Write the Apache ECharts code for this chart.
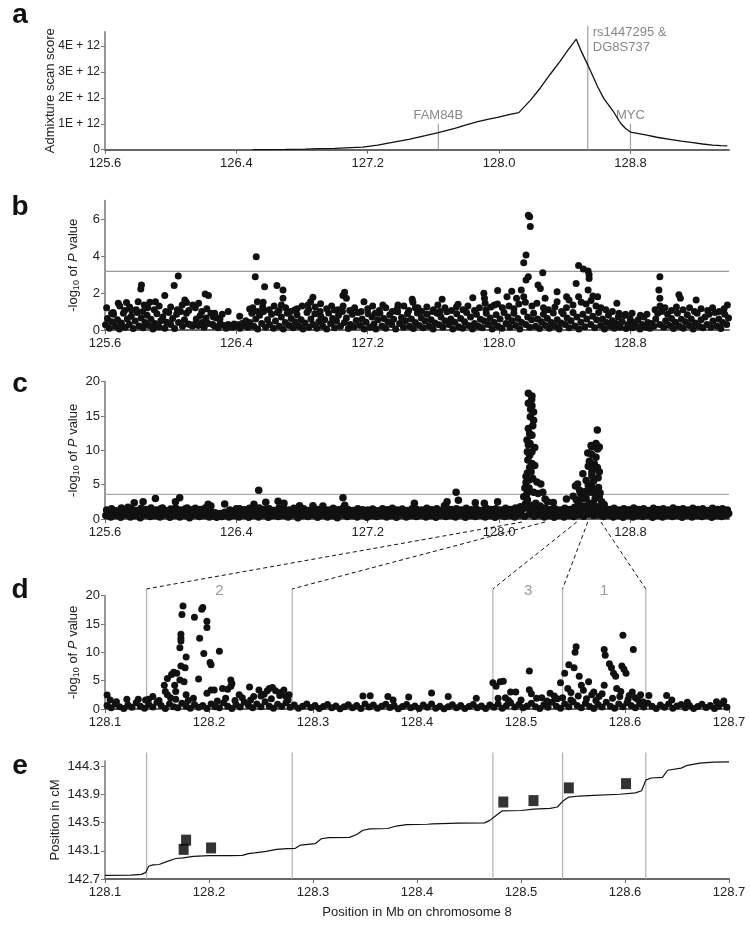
<!DOCTYPE html>
<html><head><meta charset="utf-8">
<script src="https://cdn.jsdelivr.net/npm/echarts@6/dist/echarts.min.js"></script>
<style>html,body{margin:0;padding:0;background:#fff}#c{width:750px;height:934px}</style>
</head><body><div id="c"></div>
<script>
// ---------------- DATA ----------------
const topTicks = [125.6, 126.4, 127.2, 128.0, 128.8];
const zoomTicks = [128.1, 128.2, 128.3, 128.4, 128.5, 128.6, 128.7];
const admixTicks = [0, 1, 2, 3, 4];          // in units of 1E+12
const bTicks = [0, 2, 4, 6];
const cTicks = [0, 5, 10, 15, 20];
const dTicks = [0, 5, 10, 15, 20];
const eTicks = [142.7, 143.1, 143.5, 143.9, 144.3];

// panel a: admixture scan score (E+12) vs position (Mb)
const admixScore = [[126.5,0.0],[126.6,0.005],[126.7,0.01],[126.82,0.02],[126.9,0.04],[127.0,0.05],[127.1,0.08],[127.17,0.1],[127.26,0.18],[127.35,0.28],[127.45,0.4],[127.55,0.54],[127.63,0.66],[127.73,0.82],[127.8,0.96],[127.87,1.08],[127.93,1.17],[127.99,1.25],[128.06,1.35],[128.12,1.43],[128.19,1.9],[128.25,2.37],[128.31,2.9],[128.37,3.4],[128.42,3.85],[128.47,4.26],[128.5,3.8],[128.54,3.27],[128.57,2.85],[128.6,2.43],[128.64,1.95],[128.69,1.53],[128.74,1.02],[128.77,0.82],[128.8,0.68],[128.85,0.62],[128.9,0.56],[128.96,0.48],[129.04,0.4],[129.11,0.33],[129.18,0.27],[129.24,0.22],[129.3,0.18],[129.35,0.16],[129.39,0.15]];
const geneMarks = [
  {name:'FAM84B', pos:127.63, height:1.0},
  {name:'rs1447295 &\nDG8S737', pos:128.54, height:4.77},
  {name:'MYC', pos:128.80, height:1.0}
];

// panel b: -log10 P
const bPoints = [[125.603,0.28],[125.615,0.62],[125.627,0.1],[125.64,0.45],[125.652,0.85],[125.664,0.2],[125.676,0.55],[125.688,0.05],[125.7,0.38],[125.712,0.9],[125.724,0.15],[125.736,0.6],[125.748,0.3],[125.76,0.75],[125.772,0.08],[125.784,0.48],[125.796,0.95],[125.808,0.22],[125.82,0.65],[125.832,0.12],[125.844,0.4],[125.856,0.8],[125.868,0.25],[125.88,0.58],[125.892,0.05],[125.904,0.35],[125.916,0.88],[125.928,0.18],[125.94,0.5],[125.952,0.7],[125.964,0.1],[125.976,0.42],[125.988,0.95],[126.0,0.3],[126.012,0.62],[126.024,0.08],[126.036,0.85],[126.048,0.4],[126.06,1.0],[126.072,0.2],[126.084,0.55],[126.096,0.9],[126.108,0.32],[126.12,0.28],[126.132,0.22],[126.144,0.3],[126.156,0.6],[126.168,0.25],[126.18,0.78],[126.192,0.4],[126.204,0.15],[126.216,0.65],[126.228,0.35],
[126.245,0.9],[126.256,0.3],[126.268,0.2],[126.279,0.65],[126.29,0.12],[126.302,0.35],[126.314,0.85],[126.326,0.25],[126.338,0.1],[126.35,0.3],[126.362,0.22],[126.374,0.15],[126.386,0.32],[126.398,0.2],[126.41,0.28],[126.422,0.1],[126.434,0.35],[126.446,0.25],[126.458,0.5],[126.47,0.15],
[126.482,0.4],[126.494,0.9],[126.506,0.2],[126.518,0.6],[126.53,0.05],[126.542,0.8],[126.554,0.35],[126.566,1.0],[126.578,0.15],[126.59,0.55],[126.602,0.3],[126.614,0.85],[126.626,0.1],[126.638,0.48],[126.65,0.95],[126.662,0.2],[126.674,0.7],[126.686,0.05],[126.698,0.4],[126.71,0.9],[126.722,0.25],[126.734,0.62],[126.746,0.12],[126.758,0.45],
[126.77,0.82],[126.782,0.2],[126.794,0.55],[126.806,0.05],[126.818,0.38],[126.83,0.95],[126.842,0.15],[126.854,0.6],[126.866,0.3],[126.878,0.88],[126.89,0.1],[126.902,0.45],[126.914,0.75],[126.926,0.22],[126.938,0.55],[126.95,0.05],[126.962,0.92],[126.974,0.35],[126.986,0.62],[126.998,0.12],[127.01,0.48],[127.022,0.8],[127.034,0.2],[127.046,1.0],[127.058,0.4],[127.07,0.65],[127.082,0.08],[127.094,0.3],[127.106,0.85],[127.118,0.18],[127.13,0.52],[127.142,0.95],[127.154,0.25],[127.166,0.6],[127.178,0.05],[127.19,0.42],[127.202,0.88],[127.214,0.15],[127.226,0.7],[127.238,0.32],[127.25,0.05],[127.262,0.55],[127.274,0.9],[127.286,0.22],[127.298,0.62],[127.31,0.1],[127.322,0.45],[127.334,0.82],[127.346,0.3],[127.358,0.58],[127.37,0.05],[127.382,0.98],[127.394,0.35],[127.406,0.68],[127.418,0.15],[127.43,0.5],[127.442,0.88],[127.454,0.2],[127.466,0.6],[127.478,0.08],[127.49,0.4],[127.502,0.92],[127.514,0.25],[127.526,0.65],[127.538,0.12],[127.55,0.48],[127.562,0.85],[127.574,0.2],[127.586,0.55],[127.598,0.05],[127.61,0.38],[127.622,0.9],[127.634,0.28],[127.646,0.7],[127.658,0.15],[127.67,0.5],[127.682,0.98],[127.694,0.3],[127.706,0.6],[127.718,0.05],[127.73,0.42],[127.742,0.88],[127.754,0.18],[127.766,0.62],[127.778,0.1],[127.79,0.45],[127.802,0.95],[127.814,0.25],[127.826,0.7],[127.838,0.05],[127.85,0.35],[127.862,0.85],[127.874,0.2],[127.886,0.58],[127.898,0.12],[127.91,0.48],[127.922,0.9],[127.934,0.3],[127.946,0.65],[127.958,0.05],[127.97,0.4],[127.982,0.82],
[127.994,0.2],[128.006,0.6],[128.018,0.1],[128.03,0.95],[128.042,0.35],[128.054,0.7],[128.066,0.15],[128.078,0.5],[128.09,0.9],[128.102,0.25],[128.114,0.62],[128.126,0.05],[128.138,0.4],[128.15,1.0],[128.162,0.3],[128.174,0.7],[128.186,0.15],[128.198,0.55],[128.21,0.9],[128.222,0.2],[128.234,0.6],[128.246,0.08],[128.258,0.45],[128.27,0.85],[128.282,0.25],[128.294,0.62],[128.306,0.1],[128.318,0.4],[128.33,0.92],[128.342,0.2],[128.354,0.55],[128.366,0.05],[128.378,0.38],[128.39,0.88],[128.402,0.3],[128.414,0.65],[128.426,0.12],[128.438,0.5],[128.45,0.95],[128.462,0.22],[128.474,0.7],[128.486,0.05],[128.498,0.42],[128.51,0.85],[128.522,0.18],[128.534,0.6],[128.546,1.05],[128.558,0.3],[128.57,0.75],[128.582,0.12],[128.594,0.55],[128.606,0.95],[128.618,0.25],[128.63,0.6],[128.642,0.05],[128.654,0.4],[128.666,0.8],[128.678,0.2],[128.69,0.5],[128.702,0.1],[128.714,0.35],[128.726,0.7],[128.738,0.15],[128.75,0.45],[128.762,0.78],[128.774,0.08],[128.786,0.3],[128.798,0.6],[128.81,0.12],[128.822,0.4],[128.834,0.2],[128.846,0.55],[128.858,0.05],[128.87,0.3],[128.882,0.7],[128.894,0.15],[128.906,0.4],[128.918,0.1],[128.93,0.35],[128.942,0.2],[128.954,0.6],[128.966,0.9],[128.978,0.3],[128.99,1.0],[129.002,0.15],[129.014,0.5],[129.026,0.85],[129.038,0.25],[129.05,0.62],[129.062,0.08],[129.074,0.42],[129.086,0.9],[129.098,0.2],[129.11,0.58],[129.122,0.1],[129.134,0.45],[129.146,0.82],[129.158,0.25],[129.17,0.6],[129.182,0.05],[129.194,0.38],[129.206,0.9],[129.218,0.2],[129.23,0.55],[129.242,0.12],[129.254,0.7],[129.266,0.3],[129.278,0.85],[129.29,0.15],[129.302,0.48],[129.314,0.95],[129.326,0.22],[129.338,0.6],[129.35,0.08],[129.362,0.4],[129.374,0.85],[129.386,0.3],[129.397,0.65],
[125.61,1.2],[125.65,0.95],[125.69,1.3],[125.72,1.05],[125.75,1.25],[125.79,1.1],[125.83,1.0],[125.86,1.2],[125.9,1.1],[125.93,1.3],[125.97,1.0],[126.0,1.25],[126.04,1.1],[126.07,1.35],[126.11,1.05],[126.15,1.2],[126.19,1.0],[126.22,1.15],[126.26,0.7],[126.3,0.6],[126.42,0.75],[126.5,1.2],[126.53,1.0],[126.56,1.25],[126.6,1.1],[126.63,1.3],[126.66,1.05],[126.7,1.2],[126.73,1.0],[126.77,1.15],[126.8,1.3],[126.84,1.1],[126.88,1.25],[126.91,1.0],[126.95,1.15],[126.98,1.3],[127.02,1.1],[127.05,1.3],[127.09,1.05],[127.12,1.2],[127.16,1.0],[127.2,1.15],[127.23,1.3],[127.27,1.05],[127.31,1.2],[127.35,1.0],[127.38,1.15],[127.42,1.3],[127.45,1.05],[127.49,1.2],[127.53,1.0],[127.56,1.25],[127.6,1.1],[127.64,1.0],[127.67,1.2],[127.71,1.05],[127.74,1.25],[127.78,1.1],[127.81,1.3],[127.85,1.05],[127.88,1.2],[127.92,1.1],[127.95,1.25],[127.99,1.4],[128.02,1.2],[128.06,1.3],[128.09,1.15],[128.12,1.4],[128.16,1.5],[128.2,1.3],[128.23,1.45],[128.27,1.2],[128.3,1.1],[128.34,1.25],[128.38,1.0],[128.41,1.2],[128.45,1.35],[128.5,1.5],[128.53,1.4],[128.56,1.6],[128.59,1.3],[128.62,1.2],[128.65,1.1],[128.69,1.0],[128.73,0.9],[128.77,0.85],[128.81,0.9],[128.86,0.8],[128.9,0.85],[128.95,1.1],[128.98,1.3],[129.01,1.2],[129.05,1.05],[129.08,1.25],[129.12,1.1],[129.16,1.2],[129.19,1.0],[129.23,1.15],[129.27,1.05],[129.3,1.2],[129.34,1.0],[129.37,1.15],
[125.64,0.9],[125.681,1.44],[125.731,1.48],[125.761,1.08],[125.802,1.53],[125.822,2.43],[125.818,2.22],[125.839,1.35],[125.873,1.5],[125.907,1.53],[125.964,1.86],[126.021,2.4],[126.046,2.92],[126.086,1.62],[126.096,1.48],[126.134,1.35],[126.17,1.44],[126.21,1.95],[126.23,1.86],[126.268,0.9],[126.35,1.0],[126.481,1.14],[126.521,3.96],[126.515,2.88],[126.528,1.53],[126.563,1.5],[126.572,2.34],[126.647,2.4],[126.684,2.16],[126.684,1.71],[126.674,1.35],
[126.755,1.08],[126.836,1.35],[126.866,1.77],[126.852,1.53],[126.913,1.42],[126.998,1.08],[127.049,1.86],[127.059,2.04],[127.07,1.71],[127.177,1.53],[127.246,0.9],[127.292,1.35],[127.384,1.35],[127.471,1.66],[127.475,1.5],[127.506,1.2],[127.596,1.0],[127.627,1.35],[127.653,1.66],[127.75,1.39],[127.84,1.75],[127.907,1.98],[127.911,1.71],[127.915,1.44],[127.971,1.35],[127.991,2.13],
[128.048,1.8],[128.077,2.1],[128.106,1.71],[128.135,2.16],[128.15,1.8],[128.15,3.64],[128.164,4.05],[128.178,6.2],[128.186,6.12],[128.19,5.59],[128.178,2.88],[128.164,2.7],[128.237,2.43],[128.251,2.25],[128.266,3.1],[128.28,1.71],[128.353,2.07],[128.353,1.53],[128.411,1.8],[128.426,1.62],[128.469,2.52],[128.484,3.49],[128.484,1.8],[128.513,3.3],[128.542,3.19],[128.548,2.99],[128.548,2.79],[128.542,2.16],[128.571,1.84],[128.6,1.8],[128.717,1.44],[128.979,2.88],[128.973,2.16],[128.979,1.71],[129.095,1.9],[129.104,1.71],[129.2,1.62],[129.39,1.35]];
const bThreshold = 3.17;

// panel c: -log10 P
const cPoints = [[125.605,0.5],[125.62,1.0],[125.635,0.3],[125.65,1.1],[125.665,0.55],[125.68,0.95],[125.695,0.25],[125.71,1.15],[125.725,0.6],[125.74,0.9],[125.755,0.3],[125.77,1.1],[125.785,0.5],[125.8,1.0],[125.815,0.2],[125.83,1.1],[125.845,0.6],[125.86,0.95],[125.875,0.35],[125.89,1.15],[125.905,0.5],[125.92,1.05],[125.935,0.3],[125.95,0.95],[125.965,0.6],[125.98,1.1],[125.995,0.25],[126.01,1.0],[126.025,0.55],[126.04,1.15],[126.055,0.3],[126.07,0.95],[126.085,0.5],[126.1,1.1],[126.115,0.2],[126.13,1.05],[126.145,0.6],[126.16,0.95],[126.175,0.35],[126.19,1.1],[126.205,0.5],[126.22,0.9],[126.235,0.3],[126.25,0.8],[126.265,0.45],[126.28,0.25],[126.295,0.6],[126.31,0.35],[126.325,0.5],[126.34,0.75],[126.355,0.3],[126.37,0.85],[126.385,0.5],[126.4,0.75],[126.415,0.3],[126.43,0.95],[126.445,0.55],[126.46,1.0],[126.475,0.25],[126.49,1.1],[126.505,0.55],[126.52,0.95],[126.535,0.3],[126.55,1.15],[126.565,0.6],[126.58,1.0],[126.595,0.25],[126.61,1.1],[126.625,0.5],[126.64,0.95],[126.655,0.35],[126.67,1.15],[126.685,0.55],[126.7,0.95],[126.715,0.3],[126.73,1.05],[126.745,0.6],[126.76,1.1],[126.775,0.2],[126.79,0.95],[126.805,0.5],[126.82,1.1],[126.835,0.35],[126.85,1.0],[126.865,0.6],[126.88,1.15],[126.895,0.25],[126.91,0.95],[126.925,0.55],[126.94,1.1],[126.955,0.3],[126.97,0.95],[126.985,0.5],[127.0,1.1],[127.015,0.2],[127.03,1.05],[127.045,0.6],[127.06,1.2],[127.075,0.35],[127.09,1.0],[127.105,0.5],[127.12,0.95],[127.135,0.3],[127.15,1.1],[127.165,0.55],[127.18,0.9],[127.195,0.25],[127.21,1.0],[127.225,0.5],[127.24,0.95],[127.255,0.35],[127.27,1.05],[127.285,0.55],[127.3,0.9],[127.315,0.3],[127.33,1.1],[127.345,0.5],[127.36,0.95],[127.375,0.25],[127.39,1.0],[127.405,0.6],[127.42,0.95],[127.435,0.3],[127.45,1.1],[127.465,0.5],[127.48,1.0],[127.495,0.35],[127.51,0.9],[127.525,0.55],[127.54,1.05],[127.555,0.3],[127.57,0.95],[127.585,0.5],[127.6,1.1],[127.615,0.25],[127.63,1.0],[127.645,0.55],[127.66,1.15],[127.675,0.35],[127.69,1.05],[127.705,0.5],[127.72,1.1],[127.735,0.3],[127.75,1.0],[127.765,0.6],[127.78,0.95],[127.795,0.25],[127.81,1.1],[127.825,0.5],[127.84,0.95],[127.855,0.35],[127.87,1.15],[127.885,0.55],[127.9,1.0],[127.915,0.3],[127.93,0.95],[127.945,0.5],[127.96,1.1],[127.975,0.25],[127.99,1.0],[128.005,0.55],[128.02,1.1],[128.035,0.35],[128.05,0.95],[128.065,0.5],[128.08,1.15],[128.095,0.3],[128.11,1.05],[128.125,0.6],[128.14,1.4],[128.155,0.4],[128.17,1.6],[128.185,0.7],[128.2,1.3],[128.215,0.4],[128.23,1.1],[128.245,0.6],[128.26,1.0],[128.275,0.3],[128.29,0.95],[128.305,0.5],[128.32,1.1],[128.335,0.25],[128.35,1.0],[128.365,0.55],[128.38,1.1],[128.395,0.3],[128.41,0.95],[128.425,0.5],[128.44,1.1],[128.455,0.35],[128.47,1.2],[128.485,0.6],[128.5,1.3],[128.515,0.4],[128.53,1.4],[128.545,0.7],[128.56,1.5],[128.575,0.5],[128.59,1.4],[128.605,0.6],[128.62,1.2],[128.635,0.35],[128.65,1.05],[128.665,0.55],[128.68,0.95],[128.695,0.3],[128.71,1.1],[128.725,0.5],[128.74,1.0],[128.755,0.25],[128.77,0.95],[128.785,0.55],[128.8,1.1],[128.815,0.3],[128.83,0.95],[128.845,0.5],[128.86,1.05],[128.875,0.35],[128.89,1.0],[128.905,0.55],[128.92,0.95],[128.935,0.25],[128.95,1.1],[128.965,0.5],[128.98,0.95],[128.995,0.3],[129.01,1.05],[129.025,0.55],[129.04,0.95],[129.055,0.35],[129.07,1.1],[129.085,0.5],[129.1,1.0],[129.115,0.25],[129.13,0.95],[129.145,0.55],[129.16,1.1],[129.175,0.3],[129.19,0.95],[129.205,0.5],[129.22,1.05],[129.235,0.35],[129.25,0.95],[129.265,0.55],[129.28,1.0],[129.295,0.25],[129.31,0.95],[129.325,0.5],[129.34,1.1],[129.355,0.35],[129.37,0.95],[129.385,0.55],[129.398,0.8],
[125.61,1.3],[125.64,1.5],[125.67,1.2],[125.7,1.6],[125.73,1.35],[125.76,1.5],[125.79,1.25],[125.82,1.55],[125.85,1.4],[125.88,1.6],[125.91,1.3],[125.94,1.5],[125.97,1.2],[126.0,1.45],[126.03,1.6],[126.06,1.3],[126.09,1.5],[126.12,1.35],[126.15,1.55],[126.18,1.4],[126.21,1.6],[126.24,1.2],[126.27,0.9],[126.3,0.8],[126.33,1.0],[126.36,1.3],[126.39,1.2],[126.42,1.5],[126.45,1.35],[126.48,1.55],[126.51,1.3],[126.54,1.6],[126.57,1.4],[126.6,1.5],[126.63,1.25],[126.66,1.6],[126.69,1.45],[126.72,1.3],[126.75,1.55],[126.78,1.35],[126.81,1.5],[126.84,1.25],[126.87,1.6],[126.9,1.4],[126.93,1.5],[126.96,1.3],[126.99,1.55],[127.02,1.35],[127.05,1.6],[127.08,1.4],[127.11,1.25],[127.14,1.5],[127.17,1.35],[127.2,1.3],[127.23,1.45],[127.26,1.2],[127.29,1.5],[127.32,1.35],[127.35,1.55],[127.38,1.3],[127.41,1.45],[127.44,1.25],[127.47,1.5],[127.5,1.4],[127.53,1.3],[127.56,1.55],[127.59,1.35],[127.62,1.5],[127.65,1.25],[127.68,1.6],[127.71,1.4],[127.74,1.5],[127.77,1.3],[127.8,1.55],[127.83,1.35],[127.86,1.5],[127.89,1.25],[127.92,1.6],[127.95,1.4],[127.98,1.5],[128.01,1.3],[128.04,1.55],[128.07,1.4],[128.1,1.6],[128.13,1.8],[128.16,2.2],[128.19,2.0],[128.22,1.8],[128.25,1.9],[128.28,1.6],[128.31,1.4],[128.34,1.5],[128.37,1.3],[128.4,1.55],[128.43,1.4],[128.46,1.7],[128.49,2.0],[128.52,1.9],[128.55,2.1],[128.58,2.0],[128.61,1.8],[128.64,1.6],[128.67,1.4],[128.7,1.55],[128.73,1.3],[128.76,1.5],[128.79,1.35],[128.82,1.6],[128.85,1.4],[128.88,1.5],[128.91,1.25],[128.94,1.55],[128.97,1.4],[129.0,1.5],[129.03,1.3],[129.06,1.6],[129.09,1.4],[129.12,1.5],[129.15,1.3],[129.18,1.55],[129.21,1.4],[129.24,1.5],[129.27,1.25],[129.3,1.55],[129.33,1.4],[129.36,1.5],[129.39,1.3],
[125.74,1.7],[125.778,2.38],[125.832,2.52],[125.907,3.0],[125.95,1.6],[126.029,2.52],[126.055,3.1],[126.1,1.6],[126.228,2.14],[126.245,1.9],[126.329,2.18],[126.4,1.5],[126.507,2.14],[126.536,4.17],[126.579,2.43],[126.654,2.57],[126.69,2.28],
[126.785,1.94],[126.866,1.94],[126.927,1.9],[127.049,3.1],[127.06,2.0],[127.484,2.28],[127.667,1.94],[127.683,2.52],[127.738,3.88],[127.752,2.72],[127.855,2.38],[127.91,2.28],[127.991,2.52],
[128.178,18.3],[128.2,17.9],[128.198,17.4],[128.178,16.85],[128.2,16.5],[128.21,15.6],[128.21,14.4],[128.178,13.2],[128.186,12.4],[128.2,12.2],[128.178,10.8],[128.217,10.4],[128.2,9.8],[128.186,9.3],[128.2,8.1],[128.186,7.5],[128.217,7.8],[128.172,6.7],[128.164,6.2],[128.186,5.7],[128.164,5.3],[128.23,5.4],[128.254,5.1],[128.157,4.5],[128.178,4.0],[128.21,3.9],[128.237,3.7],[128.266,3.9],[128.15,3.25],[128.172,2.8],[128.28,2.9],[128.295,2.5],[128.223,2.3],[128.41,2.9],[128.33,2.4],
[128.17,11.5],[128.19,14.9],[128.175,8.6],[128.195,6.9],[128.182,4.5],[128.168,3.6],[128.205,5.9],[128.188,11.0],[128.205,13.6],[128.192,16.0],[128.172,9.8],
[128.598,12.95],[128.56,10.7],[128.58,10.7],[128.61,10.5],[128.54,9.6],[128.565,9.4],[128.543,7.7],[128.58,8.0],[128.598,7.5],[128.565,6.8],[128.61,6.9],[128.51,6.6],[128.565,6.3],[128.603,6.0],[128.478,5.1],[128.465,4.8],[128.543,4.9],[128.565,4.6],[128.598,4.1],[128.525,4.0],[128.495,3.8],[128.584,3.7],[128.451,3.3],[128.53,3.0],[128.61,3.3],[128.48,2.6],[128.56,2.3],[128.625,2.5],[128.64,2.1],
[128.53,5.6],[128.55,8.4],[128.57,7.2],[128.59,9.0],[128.6,10.2],[128.575,5.5],[128.555,3.9],[128.52,3.5],[128.49,4.2],[128.5,2.9],[128.585,3.0],[128.605,4.6],[128.615,3.8],[128.47,2.8],[128.59,11.0],[128.565,10.5]];
const cThreshold = 3.6;

// panel d: zoom of panel c, 128.1-128.7 Mb
const dPoints = [[128.102,0.6],[128.106,0.2],[128.11,0.9],[128.114,0.4],[128.118,0.1],[128.122,0.7],[128.126,0.3],[128.13,1.1],[128.134,0.5],[128.138,0.15],[128.142,0.8],[128.146,0.35],[128.15,1.2],[128.154,0.6],[128.158,0.1],[128.162,0.9],[128.166,0.4],[128.17,0.2],[128.174,1.0],[128.178,0.5],[128.182,0.15],[128.186,0.8],[128.19,0.3],[128.194,0.6],[128.198,0.1],[128.202,0.9],[128.206,0.4],[128.21,0.2],[128.214,1.1],[128.218,0.5],[128.222,0.1],[128.226,0.8],[128.23,0.35],[128.234,1.2],[128.238,0.6],[128.242,0.2],[128.246,0.9],[128.25,0.4],[128.254,1.3],[128.258,0.5],[128.262,0.15],[128.266,0.85],[128.27,0.45],[128.274,1.1],[128.278,0.3],[128.282,0.7],[128.286,0.15],[128.29,0.5],[128.294,0.9],[128.298,0.25],[128.302,0.6],[128.306,0.1],[128.31,0.45],[128.314,0.8],[128.318,0.2],[128.322,0.55],[128.326,0.05],[128.33,0.4],[128.334,0.75],[128.338,0.2],[128.342,0.6],[128.346,0.1],[128.35,0.9],[128.354,0.35],[128.358,0.7],[128.362,0.15],[128.366,0.5],[128.37,0.85],[128.374,0.25],[128.378,0.6],[128.382,0.05],[128.386,0.45],[128.39,0.8],[128.394,0.2],[128.398,0.55],[128.402,0.1],[128.406,0.7],[128.41,0.3],[128.414,0.9],[128.418,0.15],[128.422,0.5],[128.426,0.05],[128.43,0.4],[128.434,0.75],[128.438,0.2],[128.442,0.6],[128.446,0.1],[128.45,0.45],[128.454,0.8],[128.458,0.2],[128.462,0.55],[128.466,0.1],[128.47,0.7],[128.474,0.3],[128.478,0.9],[128.482,0.15],[128.486,0.6],[128.49,1.1],[128.494,0.35],[128.498,0.8],[128.502,0.2],[128.506,0.55],[128.51,1.0],[128.514,0.4],[128.518,0.1],[128.522,0.75],[128.526,0.3],[128.53,1.2],[128.534,0.5],[128.538,0.15],[128.542,0.9],[128.546,0.4],[128.55,1.3],[128.554,0.6],[128.558,0.2],[128.562,1.0],[128.566,0.45],[128.57,0.1],[128.574,0.8],[128.578,0.35],[128.582,1.2],[128.586,0.5],[128.59,0.15],[128.594,0.9],[128.598,0.4],[128.602,1.1],[128.606,0.6],[128.61,0.2],[128.614,0.85],[128.618,0.35],[128.622,1.0],[128.626,0.5],[128.63,0.1],[128.634,0.7],[128.638,0.3],[128.642,0.9],[128.646,0.15],[128.65,0.55],[128.654,0.8],[128.658,0.2],[128.662,0.6],[128.666,0.1],[128.67,0.45],[128.674,0.85],[128.678,0.25],[128.682,0.6],[128.686,0.1],[128.69,0.5],[128.694,0.95],[128.698,0.3],
[128.152,1.5],[128.163,2.0],[128.168,1.7],[128.18,1.5],[128.185,1.9],[128.208,1.4],[128.216,1.9],[128.225,1.5],[128.232,2.0],[128.24,1.6],[128.25,2.3],[128.26,1.8],[128.268,2.4],[128.276,1.6],[128.478,1.9],[128.488,1.5],[128.5,1.6],[128.515,1.9],[128.525,1.4],[128.532,2.3],[128.54,2.0],[128.548,1.6],[128.555,2.3],[128.563,1.8],[128.572,1.5],[128.578,2.7],[128.588,1.9],[128.595,2.2],[128.603,1.7],[128.607,3.0],[128.617,1.3],[128.645,1.6],[128.66,1.2],[128.688,1.3],[128.695,1.4],
[128.102,2.47],[128.105,1.6],[128.111,1.3],[128.121,1.7],[128.132,1.7],[128.139,1.6],[128.142,1.7],[128.146,2.2],[128.157,4.2],[128.158,3.1],[128.16,2.5],[128.16,5.4],[128.164,6.1],[128.166,6.5],[128.169,6.3],[128.167,4.2],[128.168,3.1],[128.172,5.1],[128.176,4.8],[128.172,10.8],[128.173,12.0],[128.173,12.5],[128.173,13.2],[128.174,16.7],[128.175,18.2],[128.173,7.6],[128.177,7.3],[128.178,9.2],[128.178,2.5],[128.186,16.2],[128.191,12.5],[128.193,17.6],[128.194,17.9],[128.19,5.3],[128.195,9.8],[128.198,15.5],[128.198,14.4],[128.201,8.2],[128.202,7.8],[128.198,2.8],[128.202,3.35],[128.205,3.35],[128.21,10.2],[128.213,3.6],[128.218,3.5],[128.221,5.1],[128.222,4.5],[128.221,4.0],[128.229,2.5],[128.239,3.9],[128.243,2.2],[128.248,3.35],[128.253,2.6],[128.256,3.2],[128.258,3.6],[128.261,3.8],[128.264,3.2],[128.269,2.9],[128.272,3.35],[128.274,2.2],[128.277,2.5],
[128.348,2.3],[128.355,2.35],[128.372,2.2],[128.377,1.6],[128.392,2.1],[128.414,2.82],[128.43,2.2],[128.457,1.9],
[128.473,4.65],[128.476,4.0],[128.48,4.8],[128.483,4.9],[128.49,3.0],[128.495,3.0],[128.485,2.0],[128.508,6.7],[128.508,3.4],[128.51,2.7],[128.52,2.0],[128.528,2.8],[128.535,1.8],[128.538,4.65],[128.542,6.3],[128.546,7.8],[128.551,7.3],[128.552,10.0],[128.553,11.0],[128.556,5.8],[128.558,4.2],[128.565,4.8],[128.545,3.6],[128.548,2.9],[128.56,3.3],[128.57,3.0],[128.568,2.5],[128.575,2.2],[128.58,10.5],[128.581,9.5],[128.585,8.0],[128.587,7.3],[128.589,6.3],[128.591,5.8],[128.58,4.2],[128.598,13.0],[128.597,7.6],[128.599,7.0],[128.601,6.3],[128.608,10.5],[128.596,3.1],[128.592,3.6],[128.604,2.4],[128.61,2.0],[128.615,2.5],[128.623,2.4],[128.64,2.4],[128.612,1.7]];

// region boundaries (Mb) and labels
const regionBounds = [128.14, 128.28, 128.473, 128.54, 128.62];
const regionLabels = [{name:'2', pos:128.21}, {name:'3', pos:128.507}, {name:'1', pos:128.58}];

// panel e: genetic map (cM) and marker positions
const geneticMap = [[128.1,142.75],[128.125,142.755],[128.135,142.765],[128.139,142.79],[128.142,142.88],[128.146,142.9],[128.152,142.905],[128.16,142.95],[128.168,142.99],[128.175,143.0],[128.185,143.02],[128.2,143.03],[128.22,143.03],[128.232,143.035],[128.238,143.06],[128.244,143.07],[128.255,143.09],[128.265,143.12],[128.275,143.13],[128.283,143.135],[128.288,143.18],[128.295,143.19],[128.302,143.2],[128.308,143.27],[128.315,143.285],[128.335,143.29],[128.342,143.33],[128.348,143.39],[128.355,143.41],[128.372,143.415],[128.38,143.45],[128.39,143.47],[128.41,143.475],[128.415,143.48],[128.44,143.49],[128.465,143.495],[128.47,143.53],[128.476,143.6],[128.482,143.665],[128.5,143.67],[128.512,143.69],[128.528,143.7],[128.535,143.72],[128.54,143.8],[128.546,143.86],[128.556,143.875],[128.57,143.885],[128.595,143.9],[128.61,143.92],[128.616,143.95],[128.62,144.1],[128.625,144.13],[128.636,144.14],[128.641,144.24],[128.654,144.27],[128.66,144.31],[128.672,144.34],[128.685,144.355],[128.7,144.36]];
const markers = [[128.1756,143.12],[128.178,143.25],[128.202,143.14],[128.483,143.79],[128.512,143.81],[128.546,143.99],[128.601,144.05]];

// ---------------- CHART ----------------
const FONT = '"Liberation Sans", Arial, Helvetica, sans-serif';
const INK = '#111';
const chart = echarts.init(document.getElementById('c'), null, {renderer:'canvas'});

const grids = [
  {left:105, width:624, top:31.7, height:118},
  {left:105, width:624, top:200.5, height:129.5},
  {left:105, width:624, top:381.7, height:137.3},
  {left:105, width:624, top:595.7, height:113.3},
  {left:105, width:624, top:761, height:118}
];

function xAx(i, min, max, ticks, extra) {
  return Object.assign({
    type:'value', gridIndex:i, min, max,
    axisLine:{show:true, onZero:false, lineStyle:{color:'#666', width:2}},
    axisTick:{show:true, length:4, customValues:ticks, lineStyle:{color:'#666', width:1}},
    axisLabel:{customValues:ticks, formatter:v => v.toFixed(1), color:'#222', fontSize:13, fontFamily:FONT, margin:7},
    splitLine:{show:false}
  }, extra || {});
}
const richName = {
  sub:{fontSize:9, fontFamily:FONT, color:'#222', padding:[6,0,0,0]},
  it:{fontStyle:'italic', fontSize:13, fontFamily:FONT, color:'#222'}
};
function yAx(i, min, max, ticks, fmt, name, gap, labelSize) {
  return {
    type:'value', gridIndex:i, min, max,
    axisLine:{show:true, onZero:false, lineStyle:{color:'#777', width:1.5}},
    axisTick:{show:true, length:4, customValues:ticks, lineStyle:{color:'#777', width:1}},
    axisLabel:{customValues:ticks, formatter:fmt, color:'#222', fontSize:labelSize || 13, fontFamily:FONT, margin:5},
    splitLine:{show:false},
    name, nameLocation:'middle', nameGap:gap, nameRotate:90, nameMoveOverlap:false,
    nameTextStyle:{fontSize:13, fontFamily:FONT, color:'#222', rich:richName}
  };
}
const pName = '-log{sub|10} of {it|P} value';

const vline = (xi, yi, x, y0, y1, color) => ({
  type:'line', xAxisIndex:xi, yAxisIndex:yi, data:[[x,y0],[x,y1]], symbol:'none', silent:true, clip:false,
  lineStyle:{color, width:1.2}, z:1
});
const hline = (xi, yi, x0, x1, y, color) => ({
  type:'line', xAxisIndex:xi, yAxisIndex:yi, data:[[x0,y],[x1,y]], symbol:'none', silent:true,
  lineStyle:{color, width:1.2}, z:1
});
const dots = (i, data, size) => ({
  type:'scatter', xAxisIndex:i, yAxisIndex:i, data, symbol:'circle', symbolSize:size, silent:true,
  itemStyle:{color:INK, opacity:1}, z:3, large:false
});

const series = [
  {type:'line', xAxisIndex:0, yAxisIndex:0, data:admixScore, symbol:'none', silent:true, lineStyle:{color:INK, width:1.3}, z:3},
  ...geneMarks.map(g => vline(0, 0, g.pos, 0, g.height, '#a0a0a0')),
  dots(1, bPoints, 7),
  hline(1, 1, 125.6, 129.4, bThreshold, '#999'),
  dots(2, cPoints, 7.5),
  hline(2, 2, 125.6, 129.4, cThreshold, '#aaa'),
  dots(3, dPoints, 7),
  ...regionBounds.map(x => vline(3, 3, x, 0, 21.2, '#b0b0b0')),
  ...regionBounds.map(x => vline(4, 4, x, 142.7, 144.49, '#b0b0b0')),
  {type:'line', xAxisIndex:4, yAxisIndex:4, data:geneticMap, symbol:'none', silent:true, lineStyle:{color:INK, width:1.2}, z:3},
  {type:'scatter', xAxisIndex:4, yAxisIndex:4, data:markers, symbol:'rect', symbolSize:[10,11], silent:true, itemStyle:{color:'#000'}, z:4}
];

chart.setOption({
  animation:false,
  backgroundColor:'#fff',
  grid:grids,
  xAxis:[
    xAx(0, 125.6, 129.4, topTicks),
    xAx(1, 125.6, 129.4, topTicks),
    xAx(2, 125.6, 129.4, topTicks),
    xAx(3, 128.1, 128.7, zoomTicks),
    xAx(4, 128.1, 128.7, zoomTicks, {name:'Position in Mb on chromosome 8', nameLocation:'middle', nameGap:27, nameMoveOverlap:false,
      nameTextStyle:{fontSize:13, fontFamily:FONT, color:'#222'}})
  ],
  yAxis:[
    yAx(0, 0, 4.55, admixTicks, v => v === 0 ? '0' : v + 'E + 12', 'Admixture scan score', 48, 12),
    yAx(1, 0, 7, bTicks, v => String(v), pName, 24),
    yAx(2, 0, 20, cTicks, v => String(v), pName, 24),
    yAx(3, 0, 20, dTicks, v => String(v), pName, 24),
    yAx(4, 142.7, 144.371, eTicks, v => v.toFixed(1), 'Position in cM', 43)
  ],
  series
});

// overlay annotations positioned through the chart's own scales
const px = (g, pt) => chart.convertToPixel({gridIndex:g}, pt);
const graphics = [];
const letters = ['a','b','c','d','e'];
const letterY = [15, 207, 384, 590, 766];
letters.forEach((t, k) => graphics.push({type:'text', x:20, y:letterY[k],
  style:{text:t, font:'bold 28px ' + FONT, fill:INK, align:'center', verticalAlign:'middle'}}));
geneMarks.forEach(g => {
  const p = px(0, [g.pos, g.height]);
  if (g.name.indexOf('\n') >= 0) {
    graphics.push({type:'text', x:p[0] + 5, y:p[1] - 1,
      style:{text:g.name, font:'13px ' + FONT, fill:'#888', align:'left', verticalAlign:'top', lineHeight:15}});
  } else {
    graphics.push({type:'text', x:p[0], y:p[1] - 2,
      style:{text:g.name, font:'13px ' + FONT, fill:'#888', align:'center', verticalAlign:'bottom'}});
  }
});
regionLabels.forEach(r => {
  const p = px(3, [r.pos, 20.8]);
  graphics.push({type:'text', x:p[0], y:p[1],
    style:{text:r.name, font:'15px ' + FONT, fill:'#999', align:'center', verticalAlign:'middle'}});
});
regionBounds.forEach(x => {
  const a = px(2, [x, 0]);
  const b = px(3, [x, 21.2]);
  graphics.push({type:'line', shape:{x1:a[0], y1:a[1] + 3, x2:b[0], y2:b[1]},
    style:{stroke:INK, lineWidth:1, lineDash:[4, 3]}, z:10});
});
chart.setOption({graphic:graphics});
</script>
</body></html>
